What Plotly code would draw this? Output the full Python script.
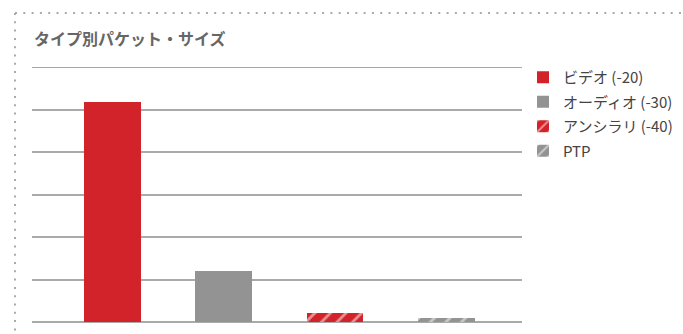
import plotly.graph_objects as go

categories = ["ビデオ (-20)", "オーディオ (-30)", "アンシラリ (-40)", "PTP"]
values = [5.17, 1.2, 0.21, 0.09]
colors = ["#d2232a", "#939393", "#d2232a", "#939393"]
patterns = ["", "", "/", "/"]
title_text = "タイプ別パケット・サイズ"
y_max = 6

W, H = 683, 334
L, R, T, B = 32, 161, 67, 12

fig = go.Figure()
for i, (c, v) in enumerate(zip(categories, values)):
    fig.add_trace(go.Bar(
        x=[i], y=[v], name=c, width=0.51, legendgroup=str(i),
        marker=dict(color=colors[i], line=dict(width=0),
                    pattern=dict(shape=patterns[i], fgcolor="white", bgcolor=colors[i],
                                 size=11, solidity=0.25) if patterns[i] else None),
    ))

pw = W - L - R
ph = H - T - B
def px_x(p):
    return (p - L) / pw
def px_y(p):
    return 1 - (p - T) / ph

grid_style = dict(color="#aaaaaa", width=1.5)

fig.update_layout(
    width=W, height=H,
    margin=dict(l=L, r=R, t=T, b=B, autoexpand=False),
    paper_bgcolor="white", plot_bgcolor="white",
    showlegend=True,
    legend=dict(x=px_x(523), y=px_y(61), xanchor="left", yanchor="top",
                font=dict(family="Noto Sans CJK JP", size=15, color="#444"),
                traceorder="grouped", tracegroupgap=2, bgcolor="rgba(0,0,0,0)"),
    xaxis=dict(range=[-0.723, 3.68], showticklabels=False, showgrid=False,
               zeroline=False, showline=False, ticks="", fixedrange=True),
    yaxis=dict(range=[0, y_max], dtick=1, showticklabels=False, showgrid=True,
               gridcolor="#aaaaaa", gridwidth=1.5, zeroline=True,
               zerolinecolor="#aaaaaa", zerolinewidth=1.5, showline=False, ticks="",
               fixedrange=True),
    bargap=0,
    annotations=[dict(text="<b>" + title_text + "</b>", xref="paper", yref="paper",
                      x=px_x(32), y=px_y(38), xanchor="left", yanchor="middle",
                      showarrow=False,
                      font=dict(family="Noto Sans CJK JP", size=16, color="#666"))],
    shapes=[
        dict(type="line", xref="paper", yref="y", x0=0, x1=1, y0=y_max, y1=y_max,
             line=dict(color="#a6a6a6", width=1.8), layer="below"),
        dict(type="line", xref="paper", yref="paper", x0=px_x(15), x1=px_x(683),
             y0=px_y(13), y1=px_y(13), line=dict(color="#aaaaaa", width=2, dash="2px,6.3px")),
        dict(type="line", xref="paper", yref="paper", x0=px_x(15), x1=px_x(15),
             y0=px_y(13), y1=px_y(334), line=dict(color="#aaaaaa", width=2, dash="2px,6.3px")),
    ],
)

fig.write_html("out.html", config={"displayModeBar": False},
               post_script="document.body.style.margin='0';")
